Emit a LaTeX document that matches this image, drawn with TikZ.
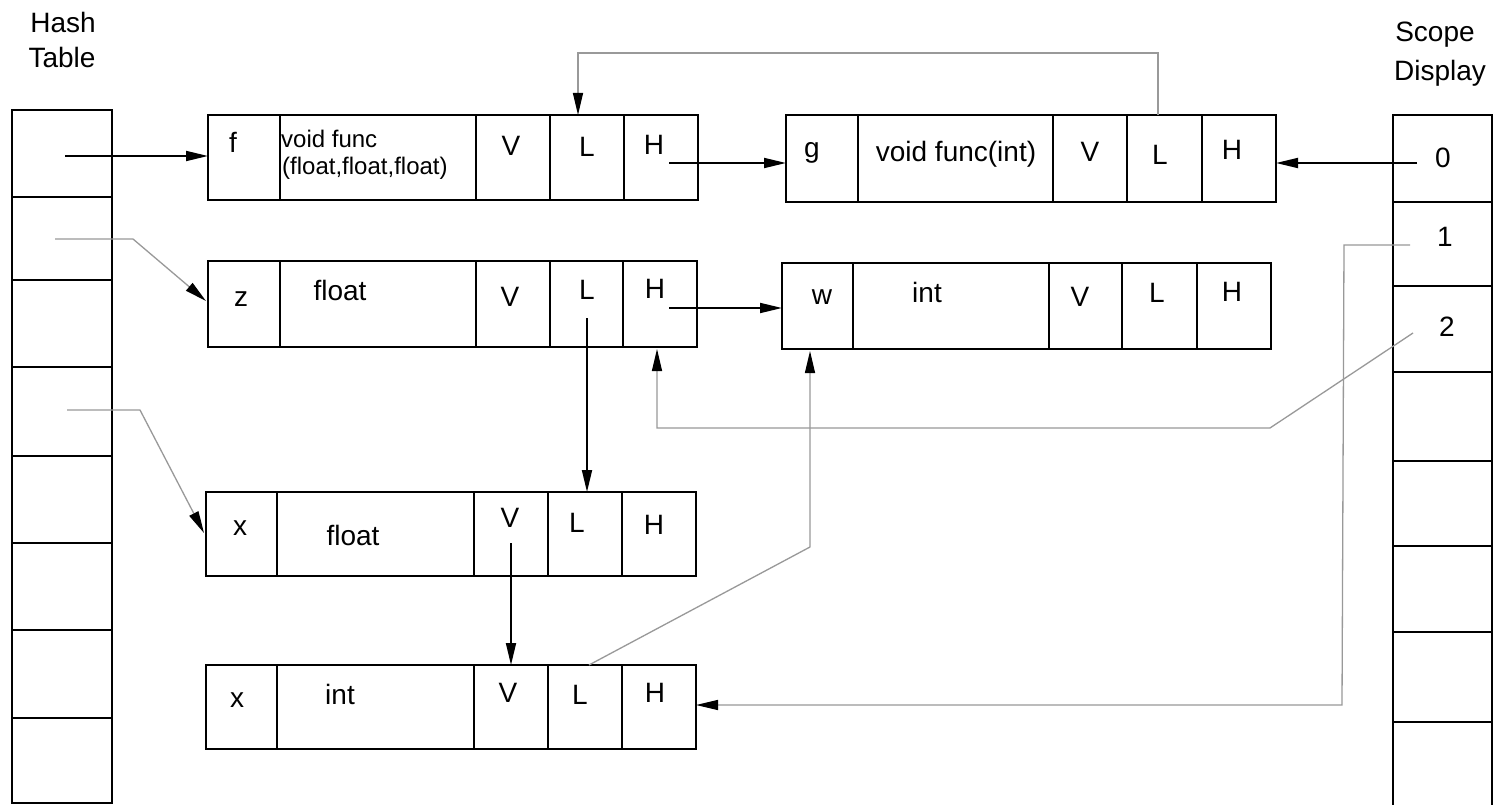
\documentclass[tikz,border=0pt]{standalone}
\usepackage{fontspec}
\setmainfont{Liberation Sans}
\usetikzlibrary{arrows.meta}
\tikzset{
  cellst/.style={draw, line width=1.8pt, inner sep=0pt, outer sep=0pt},
  lbl/.style={font=\fontsize{28}{30}\selectfont, inner sep=0pt},
  sml/.style={font=\fontsize{24}{26}\selectfont, inner sep=0pt, anchor=west},
  tip/.style={-{Triangle[length=22pt,width=10pt,color=black]}},
  blk/.style={line width=1.8pt, tip},
  gry/.style={line width=1.3pt, draw=gray!80, tip},
}
% \mkcell{name}{x1}{y1}{x2}{y2}
\newcommand\mkcell[5]{\node[cellst, minimum width={#4-#2}, minimum height={#5-#3}] (#1) at ({(#2+#4)/2},{(#3+#5)/2}) {};}
\begin{document}
\begin{tikzpicture}[x=1pt,y=-1pt]
\useasboundingbox (0,0) rectangle (1497,805);
\fill[white] (0,0) rectangle (1497,805);

% ---------- Hash table ----------
\node[lbl] (htA) at (63,22) {Hash};
\node[lbl] (htB) at (62,57) {Table};
\mkcell{h1}{12}{110}{112}{197}
\mkcell{h2}{12}{197}{112}{280}
\mkcell{h3}{12}{280}{112}{367}
\mkcell{h4}{12}{367}{112}{456}
\mkcell{h5}{12}{456}{112}{543}
\mkcell{h6}{12}{543}{112}{630}
\mkcell{h7}{12}{630}{112}{718}
\mkcell{h8}{12}{718}{112}{803}

% ---------- Scope display ----------
\node[lbl] (sdA) at (1435,35) {Scope};
\node[lbl] (sdB) at (1440,73) {Display};
\mkcell{s0}{1393}{115}{1492}{202}
\mkcell{s1}{1393}{202}{1492}{286}
\mkcell{s2}{1393}{286}{1492}{372}
\mkcell{s3}{1393}{372}{1492}{461}
\mkcell{s4}{1393}{461}{1492}{546}
\mkcell{s5}{1393}{546}{1492}{632}
\mkcell{s6}{1393}{632}{1492}{722}
\mkcell{s7}{1393}{722}{1492}{812}
\node[lbl] (s0t) at (1443,158) {0};
\node[lbl] (s1t) at (1445,237) {1};
\node[lbl] (s2t) at (1447,327) {2};

% ---------- record f ----------
\mkcell{fN}{208}{115}{280}{200}
\mkcell{fT}{280}{115}{476}{200}
\mkcell{fV}{476}{115}{550}{200}
\mkcell{fL}{550}{115}{624}{200}
\mkcell{fH}{624}{115}{698}{200}
\node[lbl] (fNt) at (233,142) {f};
\node[sml] (fTa) at (281,139) {void func};
\node[sml] (fTb) at (282,168) {(float,float,float)};
\node[lbl] (fVt) at (511,146) {V};
\node[lbl] (fLt) at (587,147) {L};
\node[lbl] (fHt) at (654,145) {H};

% ---------- record g ----------
\mkcell{gN}{786}{115}{858}{202}
\mkcell{gT}{858}{115}{1053}{202}
\mkcell{gV}{1053}{115}{1127}{202}
\mkcell{gL}{1127}{115}{1202}{202}
\mkcell{gH}{1202}{115}{1276}{202}
\node[lbl] (gNt) at (812,153) {g};
\node[lbl] (gTt) at (956,154) {void func(int)};
\node[lbl] (gVt) at (1090,152) {V};
\node[lbl] (gLt) at (1160,155) {L};
\node[lbl] (gHt) at (1232,150) {H};

% ---------- record z ----------
\mkcell{zN}{208}{261}{280}{347}
\mkcell{zT}{280}{261}{476}{347}
\mkcell{zV}{476}{261}{550}{347}
\mkcell{zL}{550}{261}{623}{347}
\mkcell{zH}{623}{261}{697}{347}
\node[lbl] (zNt) at (241,299) {z};
\node[lbl] (zTt) at (340,290) {float};
\node[lbl] (zVt) at (510,297) {V};
\node[lbl] (zLt) at (587,290) {L};
\node[lbl] (zHt) at (655,289) {H};

% ---------- record w ----------
\mkcell{wN}{782}{263}{853}{349}
\mkcell{wT}{853}{263}{1049}{349}
\mkcell{wV}{1049}{263}{1122}{349}
\mkcell{wL}{1122}{263}{1197}{349}
\mkcell{wH}{1197}{263}{1271}{349}
\node[lbl] (wNt) at (822,297) {w};
\node[lbl] (wTt) at (927,292) {int};
\node[lbl] (wVt) at (1080,297) {V};
\node[lbl] (wLt) at (1157,293) {L};
\node[lbl] (wHt) at (1232,292) {H};

% ---------- record x float ----------
\mkcell{xfN}{206}{492}{277}{576}
\mkcell{xfT}{277}{492}{474}{576}
\mkcell{xfV}{474}{492}{548}{576}
\mkcell{xfL}{548}{492}{622}{576}
\mkcell{xfH}{622}{492}{696}{576}
\node[lbl] (xfNt) at (240,528) {x};
\node[lbl] (xfTt) at (353,535) {float};
\node[lbl] (xfVt) at (510,518) {V};
\node[lbl] (xfLt) at (577,523) {L};
\node[lbl] (xfHt) at (654,525) {H};

% ---------- record x int ----------
\mkcell{xiN}{206}{665}{277}{749}
\mkcell{xiT}{277}{665}{474}{749}
\mkcell{xiV}{474}{665}{548}{749}
\mkcell{xiL}{548}{665}{622}{749}
\mkcell{xiH}{622}{665}{696}{749}
\node[lbl] (xiNt) at (237,700) {x};
\node[lbl] (xiTt) at (340,694) {int};
\node[lbl] (xiVt) at (508,693) {V};
\node[lbl] (xiLt) at (580,695) {L};
\node[lbl] (xiHt) at (655,693) {H};

% ---------- connector points ----------
\coordinate (h1s) at (65,156);
\coordinate (h2s) at (55,239);
\coordinate (h2b) at (133,239);
\coordinate (zin) at (206,301);
\coordinate (h4s) at (67,410);
\coordinate (h4b) at (140,410);
\coordinate (xfin) at (204,533);
\coordinate (fHs) at (669,163);
\coordinate (gLs) at (1158,115);
\coordinate (gtop) at (1158,53);
\coordinate (fLn) at (578,115);
\coordinate (s0s) at (1417,163);
\coordinate (zHs) at (669,308);
\coordinate (zLs) at (587,318);
\coordinate (xfVs) at (511,543);
\coordinate (s2s) at (1413,333);
\coordinate (c10) at (1270,428);
\coordinate (zHb) at (657,349);
\coordinate (xiLs) at (589,665);
\coordinate (c11) at (810,547);
\coordinate (wNb) at (810,351);
\coordinate (s1s) at (1410,245);
\coordinate (c12a) at (1344,245);
\coordinate (c12b) at (1342,705);

% ---------- connectors ----------
\draw[blk] (h1s) -- (h1s -| fN.west);
\draw[gry] (h2s) -- (h2b) -- (zin);
\draw[gry] (h4s) -- (h4b) -- (xfin);
\draw[blk] (fHs) -- (fHs -| gN.west);
\draw[gry] (gLs) -- (gtop) -| (fLn);
\draw[blk] (s0s) -- (s0s -| gH.east);
\draw[blk] (zHs) -- (zHs -| wN.west);
\draw[blk] (zLs) -- (zLs |- xfL.north);
\draw[blk] (xfVs) -- (xfVs |- xiV.north);
\draw[gry] (s2s) -- (c10) -| (zHb);
\draw[gry] (xiLs) -- (c11) -- (wNb);
\draw[gry] (s1s) -- (c12a) -- (c12b) -- (c12b -| xiH.east);
\end{tikzpicture}
\end{document}
